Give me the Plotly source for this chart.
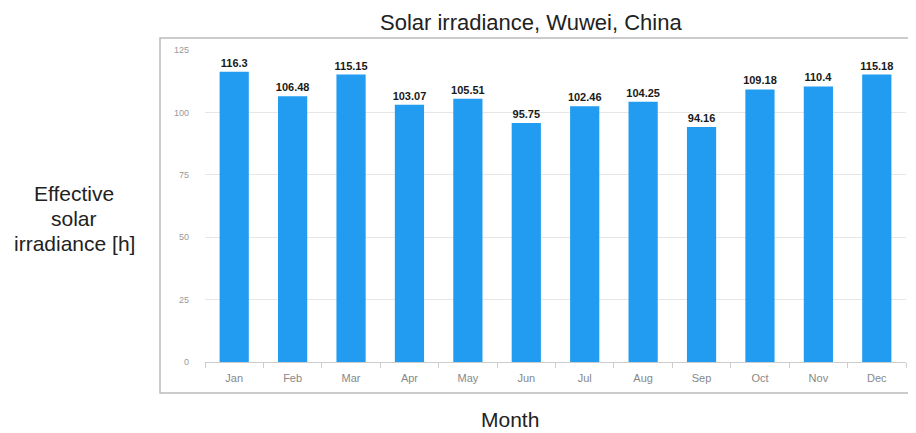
import plotly.graph_objects as go

months = ["Jan", "Feb", "Mar", "Apr", "May", "Jun", "Jul", "Aug", "Sep", "Oct", "Nov", "Dec"]
irradiance = [116.3, 106.48, 115.15, 103.07, 105.51, 95.75, 102.46, 104.25, 94.16, 109.18, 110.4, 115.18]
y_ticks = [0, 25, 50, 75, 100, 125]
y_title_lines = ["Effective", "solar", "irradiance [h]"]

OFF = 8  # default page body margin in the browser
W, H = 916 - OFF, 433 - OFF
# target plot area in window pixels
PL, PR, PT, PB = 205, 906, 50, 362
L = PL - OFF
R = W - (PR - OFF)
T = PT - OFF
B = H - (PB - OFF)
pw = PR - PL
ph = PB - PT

def px_x(p):
    return (p - PL) / pw

def px_y(p):
    return (PB - p) / ph

fig = go.Figure()
fig.add_trace(go.Bar(
    x=months, y=irradiance,
    marker=dict(color="#219CF0", line=dict(width=0)),
    text=[str(v) for v in irradiance],
    textposition="outside",
    textfont=dict(family="Liberation Sans", size=11, color="#1a1a1a", weight="bold"),
    cliponaxis=False,
    width=0.5,
))

fig.update_layout(
    width=W, height=H,
    margin=dict(l=L, r=R, t=T, b=B, pad=0),
    paper_bgcolor="white", plot_bgcolor="white",
    showlegend=False,
    font=dict(family="Liberation Sans"),
    uniformtext=dict(minsize=11, mode="show"),
)
fig.update_xaxes(
    showgrid=False, showline=True, linecolor="#cccccc", linewidth=1,
    ticks="outside", tickson="boundaries", ticklen=5, tickcolor="#cccccc",
    tickfont=dict(size=11, color="#888888"), ticklabelstandoff=6,
)
fig.update_yaxes(
    range=[0, 125], tickvals=y_ticks, showgrid=True, gridcolor="#e6e6e6",
    zeroline=False, showline=False, ticks="",
    tickfont=dict(size=9, color="#999999"), ticklabelstandoff=15,
)

# outer frame of the inner chart
fig.add_shape(type="rect", xref="paper", yref="paper",
              x0=px_x(160), x1=px_x(910), y0=px_y(393), y1=px_y(38),
              line=dict(color="#bbbbbb", width=1.5), layer="below")

fig.add_annotation(text="Solar irradiance, Wuwei, China", xref="paper", yref="paper",
                   x=px_x(531), y=px_y(22), showarrow=False,
                   font=dict(size=22, color="#222222"), xanchor="center", yanchor="middle")
for i, line in enumerate(y_title_lines):
    fig.add_annotation(text=line, xref="paper", yref="paper",
                       x=px_x(74), y=px_y(193 + 25 * i), showarrow=False,
                       font=dict(size=21, color="#222222"), xanchor="center", yanchor="middle")
fig.add_annotation(text="Month", xref="paper", yref="paper",
                   x=px_x(510), y=px_y(419), showarrow=False,
                   font=dict(size=21, color="#222222"), xanchor="center", yanchor="middle")

fig.write_html("out.html")
